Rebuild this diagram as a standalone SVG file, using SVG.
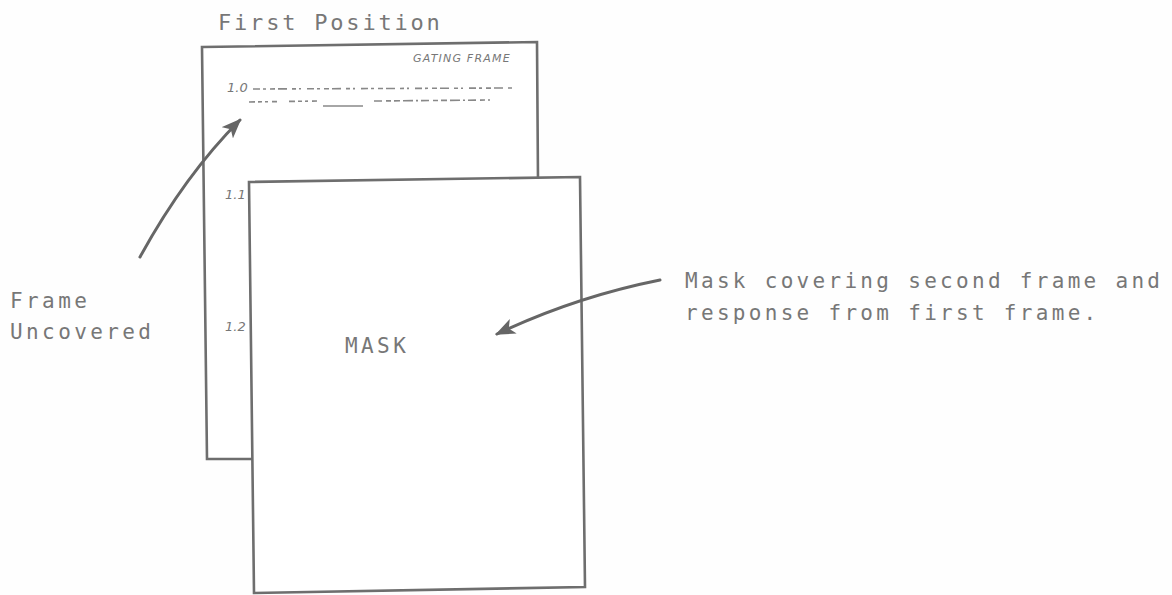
<svg xmlns="http://www.w3.org/2000/svg" width="1172" height="595" viewBox="0 0 1172 595">
  <style>
    .frame { fill: #ffffff; stroke: #6e6e6e; stroke-width: 2.6; stroke-linejoin: miter; }
    .lbl { font-family: "DejaVu Sans Mono", "Liberation Mono", monospace; fill: #777777; font-size: 21px; letter-spacing: 3.4px; }
    .hand { font-family: "DejaVu Sans", "Liberation Sans", sans-serif; font-style: italic; fill: #777777; }
    .scrib { stroke: #888888; stroke-width: 1.6; fill: none; }
    .conn { stroke: #666666; stroke-width: 3; fill: none; stroke-linecap: round; }
  </style>
  <defs>
    <marker id="head" viewBox="0 0 20 16" refX="18" refY="8" markerWidth="20" markerHeight="16" markerUnits="userSpaceOnUse" orient="auto">
      <path d="M0,0 L20,8 L0,16 L5,8 Z" fill="#666666"/>
    </marker>
  </defs>
  <rect width="1172" height="595" fill="#fefefe"/>

  <text class="lbl" x="218" y="30" style="font-size:22px;letter-spacing:2.8px">First Position</text>

  <g id="gating-frame">
    <polygon class="frame" points="202,47 537,42 540,459 207,459"/>
    <text class="hand" x="413" y="62" font-size="11" letter-spacing="1.2">GATING FRAME</text>
    <text class="hand" x="227" y="92" font-size="13">1.0</text>
    <path class="scrib" stroke-dasharray="7,3,3,4,5,3,9,5,4,3,2,6" d="M253,89 L512,88"/>
    <path class="scrib" stroke-dasharray="6,3,4,3,3,4,5,12" d="M249,102 L318,101"/>
    <path class="scrib" d="M323,106 L363,106"/>
    <path class="scrib" stroke-dasharray="8,4,5,3,6,3,10,3,2,3" d="M374,101 L490,100"/>
    <text class="hand" x="225" y="199" font-size="13">1.1</text>
    <text class="hand" x="225" y="331" font-size="13">1.2</text>
  </g>

  <g id="mask">
    <polygon class="frame" points="249,182 580,177 585,587 254,593"/>
    <text class="lbl" x="345" y="353">MASK</text>
  </g>

  <g id="label-frame-uncovered">
    <text class="lbl" x="10" y="308">Frame</text>
    <text class="lbl" x="10" y="339">Uncovered</text>
  </g>

  <g id="label-mask-covering">
    <text class="lbl" x="685" y="288" style="letter-spacing:3.3px">Mask covering second frame and</text>
    <text class="lbl" x="685" y="320" style="letter-spacing:3.3px">response from first frame.</text>
  </g>

  <g id="connectors">
    <path class="conn" d="M140,257 Q185,175 240,120" marker-end="url(#head)"/>
    <path class="conn" d="M660,280 Q575,297 497,334" marker-end="url(#head)"/>
  </g>
</svg>
